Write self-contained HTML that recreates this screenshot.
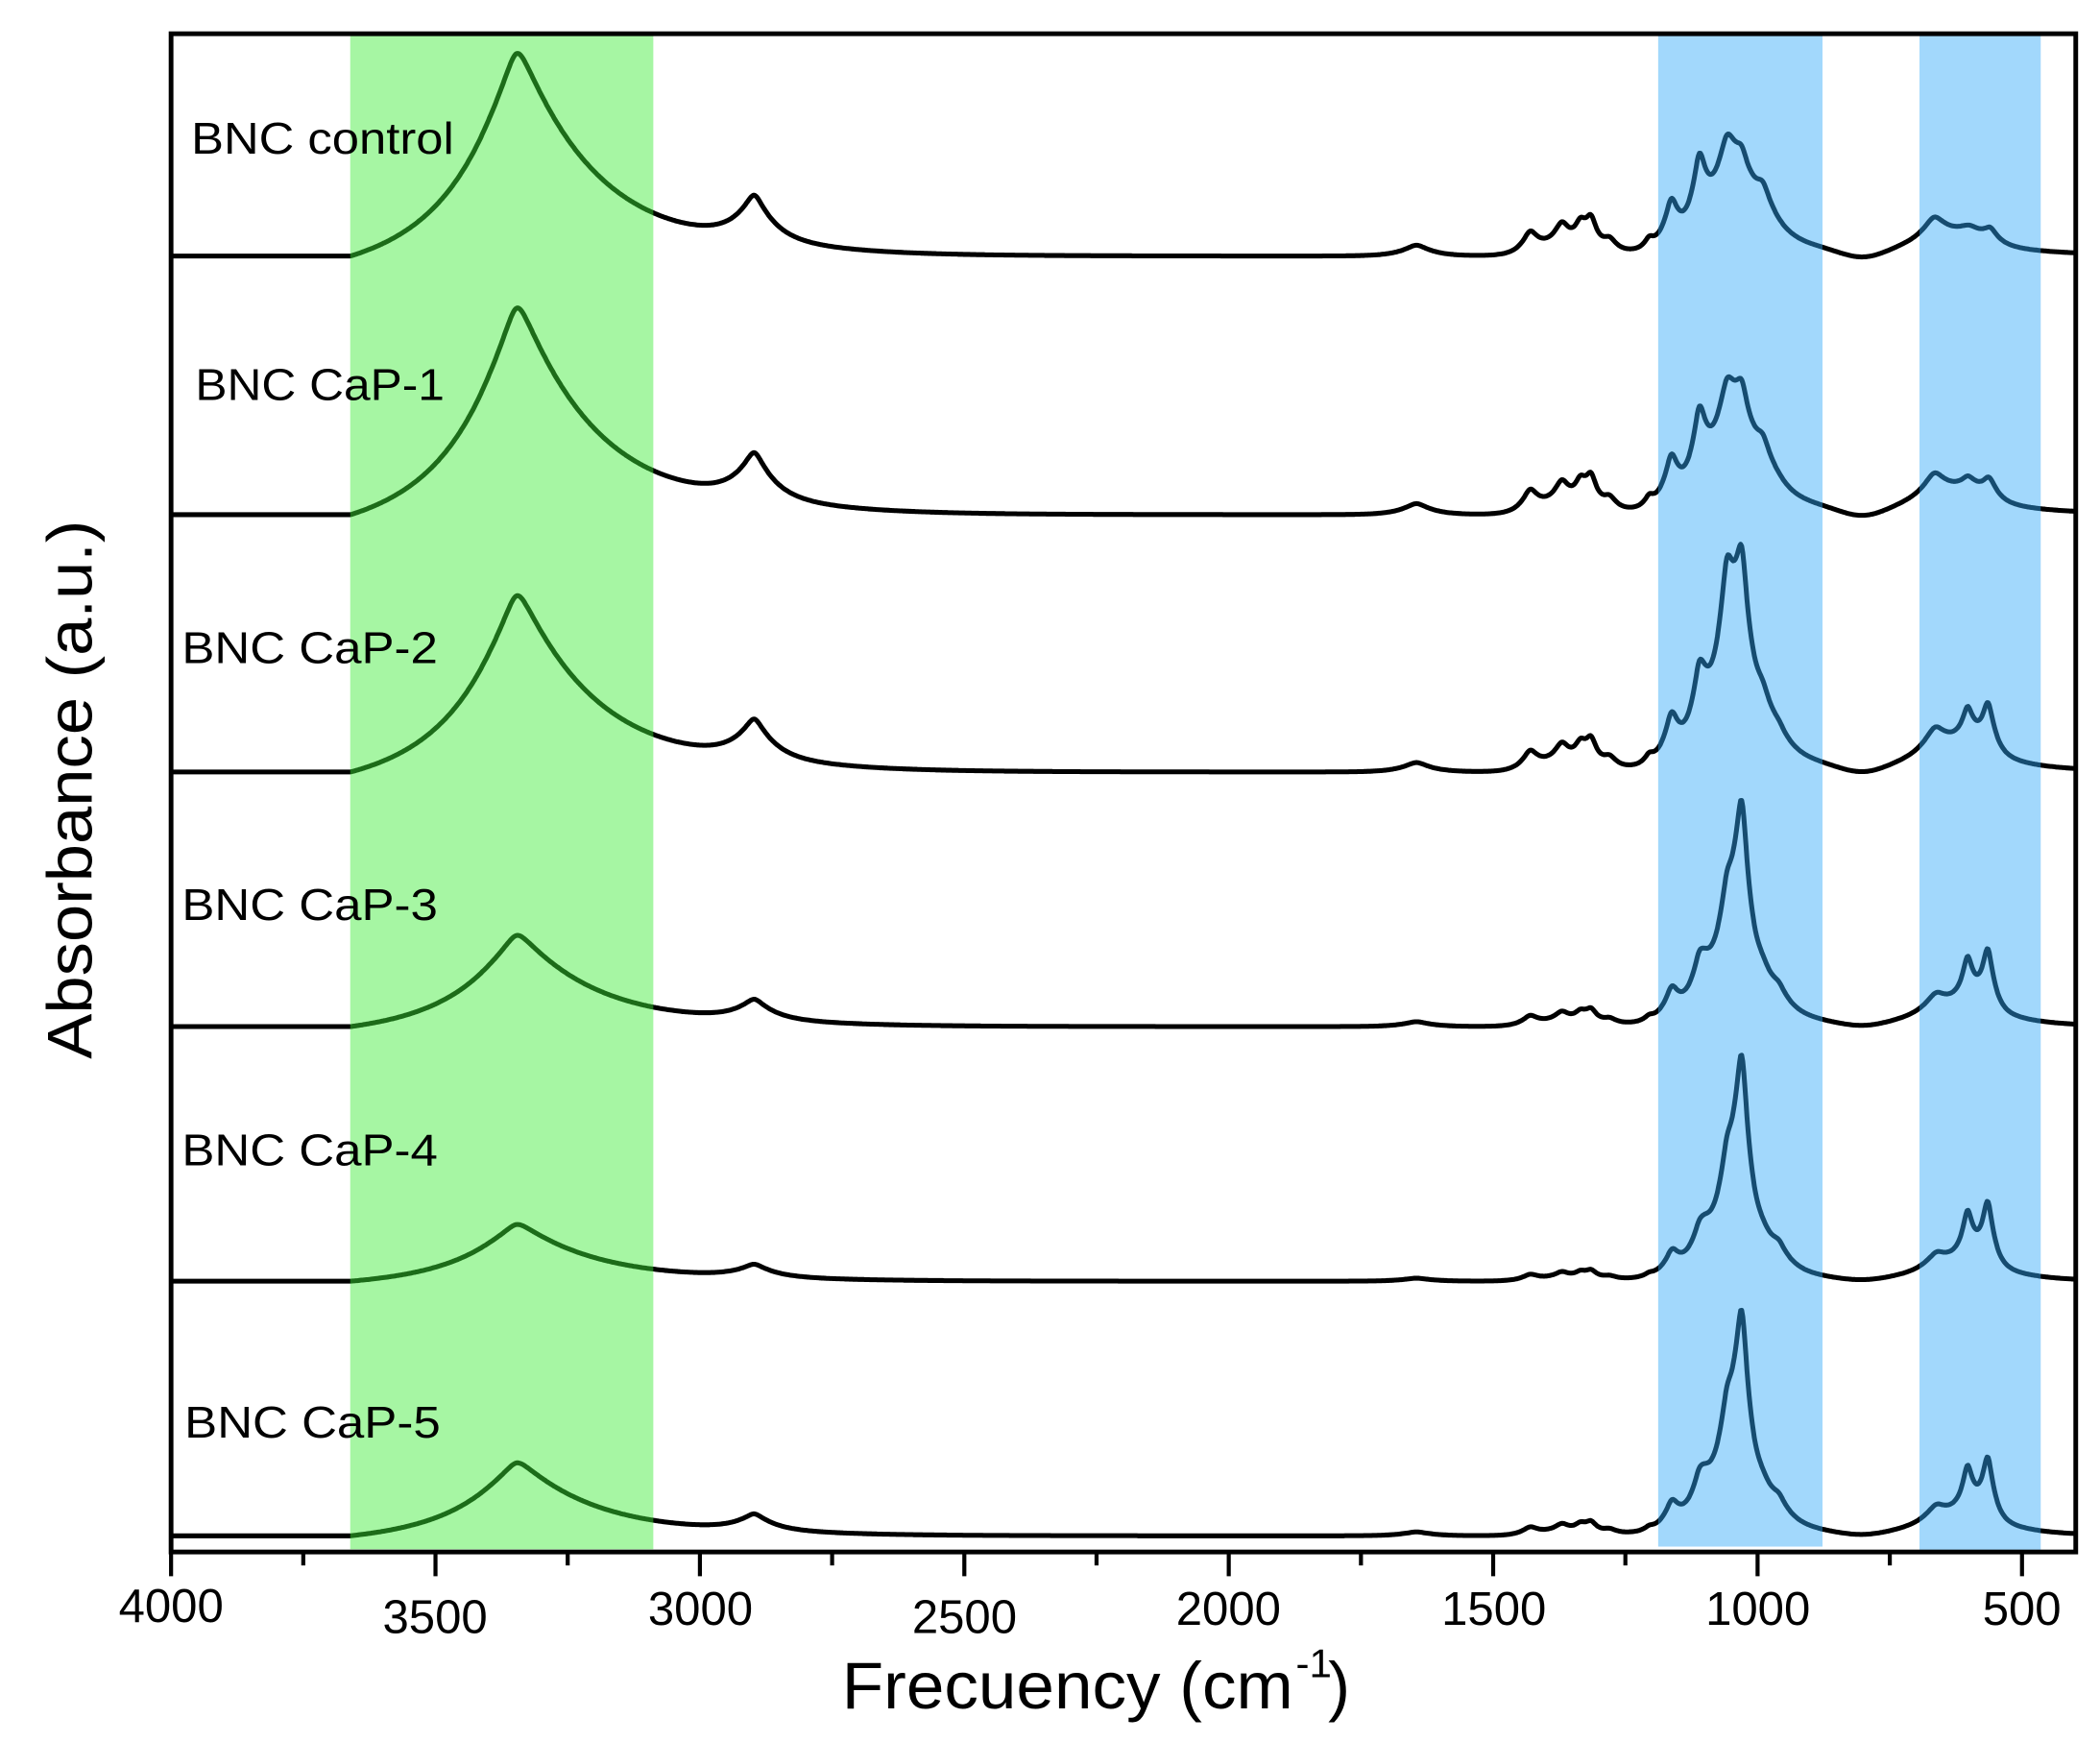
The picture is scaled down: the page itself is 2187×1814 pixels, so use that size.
<!DOCTYPE html>
<html><head><meta charset="utf-8">
<style>html,body{margin:0;padding:0;background:#fff}svg{display:block}</style>
</head><body>
<svg id="s" width="2187" height="1814" viewBox="0 0 1559 1293" xmlns="http://www.w3.org/2000/svg" font-family="Liberation Sans, Arial, sans-serif">
<rect width="1559" height="1293" fill="#fff"/>
<g id="curves" fill="none" stroke="#000" stroke-width="3.6" stroke-linejoin="round"></g>
<rect x="260" y="25" width="225" height="1125" fill="rgb(60,235,55)" fill-opacity="0.46"/>
<rect x="1231" y="25" width="122" height="1123" fill="rgb(48,169,249)" fill-opacity="0.45"/>
<rect x="1425" y="25" width="90" height="1127" fill="rgb(48,169,249)" fill-opacity="0.45"/>
<rect x="127" y="25" width="1414" height="1127" fill="none" stroke="#000" stroke-width="3.5"/>
<g id="ticks" stroke="#000" stroke-width="3"></g>
<g font-size="35" fill="#000" text-anchor="middle">
<text x="127" y="1204">4000</text>
<text x="323" y="1212">3500</text>
<text x="520" y="1206">3000</text>
<text x="716" y="1212">2500</text>
<text x="912" y="1206">2000</text>
<text x="1109" y="1206">1500</text>
<text x="1305" y="1206">1000</text>
<text x="1501" y="1206">500</text>
</g>
<g font-size="33" fill="#000">
<text x="142" y="114" textLength="195" lengthAdjust="spacingAndGlyphs">BNC control</text>
<text x="145" y="297" textLength="185" lengthAdjust="spacingAndGlyphs">BNC CaP-1</text>
<text x="135" y="492" textLength="190" lengthAdjust="spacingAndGlyphs">BNC CaP-2</text>
<text x="135" y="683" textLength="190" lengthAdjust="spacingAndGlyphs">BNC CaP-3</text>
<text x="135" y="865" textLength="190" lengthAdjust="spacingAndGlyphs">BNC CaP-4</text>
<text x="137" y="1067" textLength="190" lengthAdjust="spacingAndGlyphs">BNC CaP-5</text>
</g>
<text x="0" y="0" font-size="47" transform="translate(68,786) rotate(-90)" textLength="400" lengthAdjust="spacingAndGlyphs">Absorbance (a.u.)</text>
<text x="625" y="1268" font-size="49" textLength="335" lengthAdjust="spacingAndGlyphs">Frecuency (cm</text>
<text x="962" y="1245" font-size="30">-1</text>
<text x="986" y="1268" font-size="49">)</text>
</svg>
<script>
(function(){
var NS="http://www.w3.org/2000/svg";
function X(n){return 127+0.3926*(4000-n);}
function L(n,c,h,wl,wr,s){var d=n-c;var w=d>0?wl:(wr||wl);s=s||6;return h*Math.exp(-(Math.sqrt(d*d+s*s)-s)/w);}
function G(n,c,h,w){var d=(n-c)/w;return h*Math.exp(-d*d);}
function C(n){
 var v=0;
 v+=L(n,3345,150,110,150,12);
 v+=L(n,2897,28,35,35,8)+L(n,2900,9,150,150);
 v+=L(n,1645,8,30,30,10);
 v+=L(n,1430,13,14,14,8)+L(n,1370,15,14,14,8)+L(n,1335,14,12,12,6)+L(n,1315,20,12,12,6)+L(n,1280,9,14,14,8)+L(n,1205,6,8);
 v+=G(n,1380,8,70);
 v+=L(n,1163,30,15,15,6)+L(n,1110,48,15,15,6)+L(n,1058,46,25,25,8)+L(n,1030,25,20)+L(n,990,28,30)+L(n,1050,30,80,80,20);
 v+=-G(n,800,7,60);
 v+=L(n,666,16,25,25,10)+L(n,600,12,40,40,10)+L(n,560,9,15,15,6)+L(n,650,10,150,150,30);
 v-= L(3660,3345,150,110,150,12)*Math.max(0,(n-3400)/260);
 if(n>3660)v=0;
 return v;
}
function P(n){
 var v=0;
 v+=L(n,1030,92,13,13,6)+L(n,1040,42,50,50,15)+L(n,1058,25,15,15,6)+L(n,960,10,20)+L(n,1160,6,15)+L(n,1100,10,20,20,8);
 v+=L(n,565,38,11,11,5)+L(n,603,24,9,9,5)+L(n,600,18,60,60,15)+L(n,660,5,20);
 return v;
}
var sp=[[190,1,0,0],[382,1.02,0.12,0],[573,0.87,0.65,30],[762,0.45,0.95,0],[951,0.28,1.05,0],[1140,0.36,1.0,0]];
var g=document.getElementById("curves");
sp.forEach(function(s){
 var d="";
 for(var n=4000;n>=398;n-=2){
  var y=s[0]-s[1]*C(n)-s[2]*P(n)-L(n,1058,s[3],15,15,6);
  d+=(d?"L":"M")+X(n).toFixed(1)+","+y.toFixed(1);
 }
 var p=document.createElementNS(NS,"path");p.setAttribute("d",d);g.appendChild(p);
});
var t=document.getElementById("ticks");
for(var n=4000;n>=500;n-=250){
 var l=document.createElementNS(NS,"line");
 var x=X(n);l.setAttribute("x1",x);l.setAttribute("x2",x);
 l.setAttribute("y1",1152);l.setAttribute("y2",(n%500==0)?1170:1162);
 t.appendChild(l);
}
})();
</script>
</body></html>
